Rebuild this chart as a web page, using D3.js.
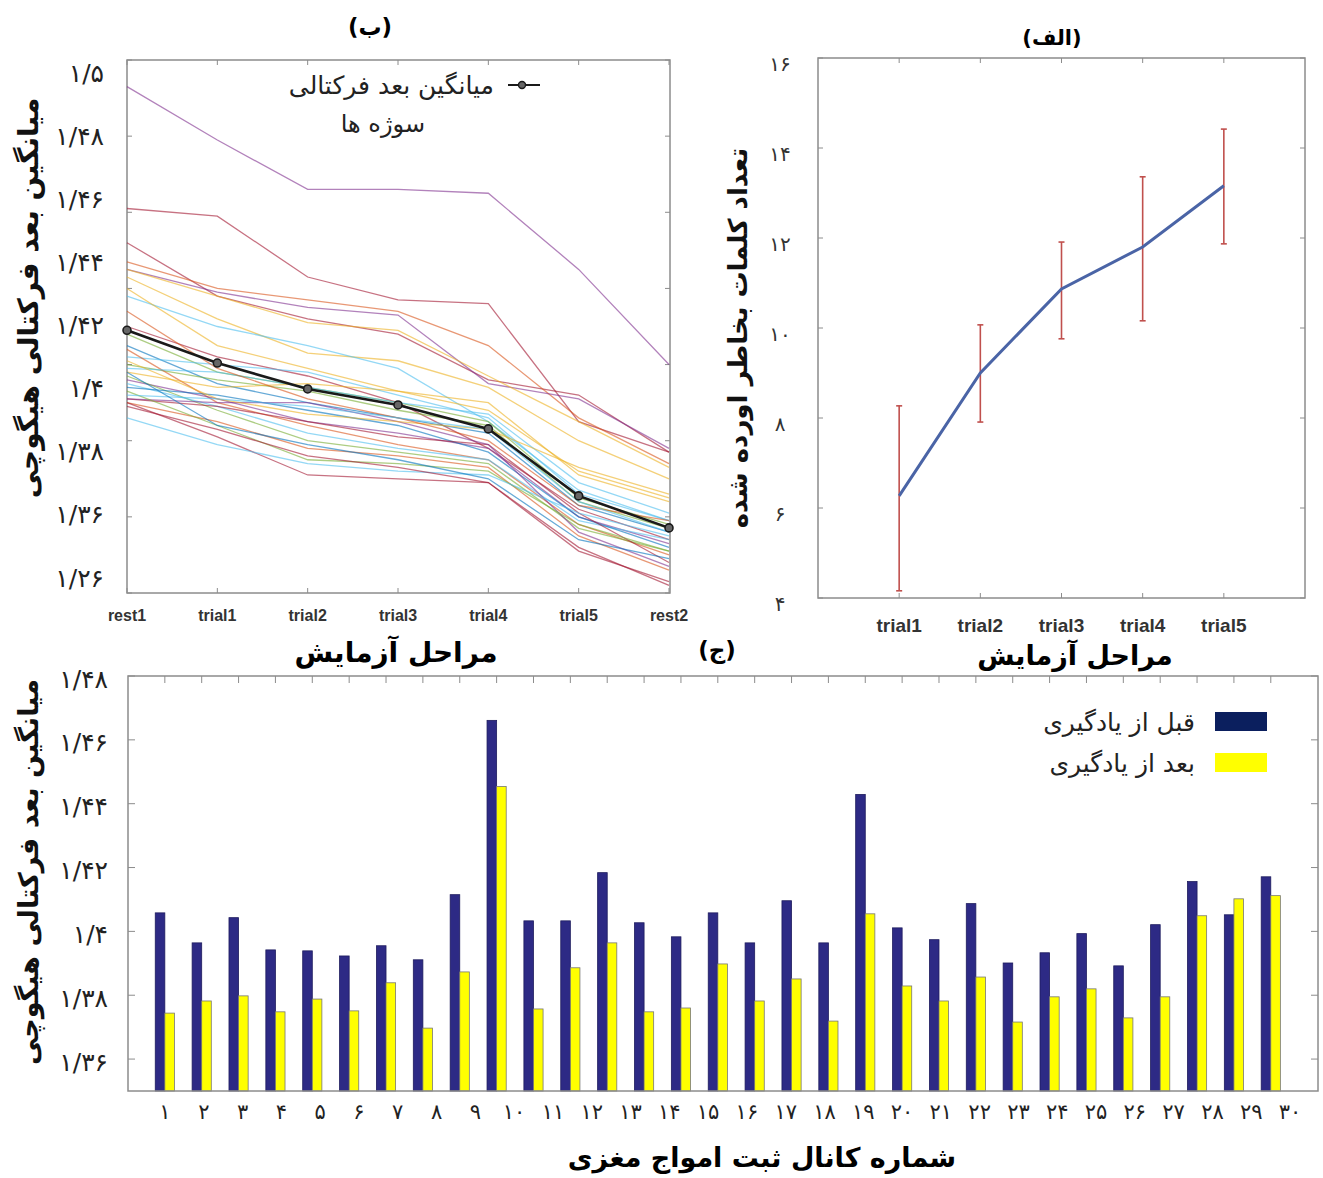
<!DOCTYPE html>
<html>
<head>
<meta charset="utf-8">
<script src="https://cdn.jsdelivr.net/npm/d3@7"></script>
<style>
  body { margin: 0; background: #fff; }
  svg { display: block; }
  .fa { font-family: "DejaVu Sans", sans-serif; }
  .en { font-family: "Liberation Sans", Arial, sans-serif; font-weight: bold; }
</style>
</head>
<body>
<div id="chart"></div>
<script>
// ---------- data ----------
// panel (ب): fractal dimension per stage, per subject
const stages = ['rest1', 'trial1', 'trial2', 'trial3', 'trial4', 'trial5', 'rest2'];
const meanFD = [1.429, 1.4204, 1.4136, 1.4094, 1.4031, 1.3855, 1.3771];
const subjects = [
  [1.493, 1.479, 1.466, 1.466, 1.465, 1.445, 1.420],
  [1.461, 1.459, 1.443, 1.437, 1.436, 1.405, 1.397],
  [1.452, 1.438, 1.432, 1.428, 1.416, 1.412, 1.397],
  [1.447, 1.440, 1.437, 1.434, 1.425, 1.406, 1.394],
  [1.445, 1.439, 1.435, 1.433, 1.415, 1.411, 1.398],
  [1.445, 1.438, 1.431, 1.429, 1.417, 1.405, 1.393],
  [1.443, 1.432, 1.423, 1.421, 1.414, 1.400, 1.390],
  [1.438, 1.430, 1.425, 1.419, 1.405, 1.387, 1.379],
  [1.440, 1.425, 1.419, 1.413, 1.408, 1.392, 1.385],
  [1.430, 1.422, 1.417, 1.410, 1.398, 1.382, 1.374],
  [1.428, 1.418, 1.414, 1.410, 1.405, 1.385, 1.378],
  [1.425, 1.415, 1.410, 1.406, 1.402, 1.383, 1.376],
  [1.422, 1.420, 1.418, 1.412, 1.406, 1.386, 1.379],
  [1.420, 1.416, 1.413, 1.408, 1.404, 1.384, 1.377],
  [1.424, 1.410, 1.404, 1.399, 1.395, 1.378, 1.370],
  [1.419, 1.418, 1.414, 1.410, 1.407, 1.389, 1.381],
  [1.418, 1.414, 1.415, 1.413, 1.410, 1.391, 1.384],
  [1.416, 1.411, 1.405, 1.402, 1.398, 1.380, 1.373],
  [1.417, 1.408, 1.400, 1.397, 1.394, 1.377, 1.371],
  [1.415, 1.409, 1.402, 1.398, 1.395, 1.379, 1.374],
  [1.414, 1.412, 1.408, 1.404, 1.397, 1.380, 1.372],
  [1.411, 1.409, 1.405, 1.401, 1.399, 1.381, 1.368],
  [1.411, 1.410, 1.410, 1.405, 1.399, 1.376, 1.367],
  [1.410, 1.405, 1.398, 1.396, 1.393, 1.375, 1.366],
  [1.410, 1.401, 1.391, 1.390, 1.389, 1.371, 1.363],
  [1.413, 1.404, 1.395, 1.394, 1.392, 1.378, 1.371],
  [1.406, 1.399, 1.394, 1.392, 1.391, 1.381, 1.375],
  [1.421, 1.411, 1.407, 1.405, 1.403, 1.393, 1.386],
  [1.434, 1.419, 1.411, 1.406, 1.400, 1.383, 1.379],
  [1.412, 1.411, 1.409, 1.406, 1.403, 1.384, 1.376],
  [1.409, 1.403, 1.396, 1.393, 1.389, 1.372, 1.362],
  [1.418, 1.404, 1.399, 1.395, 1.390, 1.374, 1.369]
];
const subjectColors = ['#7E2F8E', '#A2142F', '#A2142F', '#D95319', '#7E2F8E', '#EDB120', '#EDB120',
  '#4DBEEE', '#EDB120', '#A2142F', '#77AC30', '#0072BD', '#4DBEEE', '#77AC30', '#D95319', '#4DBEEE',
  '#EDB120', '#7E2F8E', '#77AC30', '#4DBEEE', '#0072BD', '#A2142F', '#7E2F8E', '#D95319', '#A2142F',
  '#77AC30', '#4DBEEE', '#EDB120', '#D95319', '#4DBEEE', '#A2142F', '#0072BD'];
const bTickLabels = ['۱/۵', '۱/۴۸', '۱/۴۶', '۱/۴۴', '۱/۴۲', '۱/۴', '۱/۳۸', '۱/۳۶', '۱/۲۶'];

// panel (الف): recalled words per trial, mean with error range
const trials = ['trial1', 'trial2', 'trial3', 'trial4', 'trial5'];
const wordsMean = [6.27, 9.0, 10.87, 11.8, 13.16];
const wordsLow = [4.16, 7.91, 9.76, 10.16, 11.87];
const wordsHigh = [8.27, 10.07, 11.91, 13.36, 14.42];
const aTicks = [4, 6, 8, 10, 12, 14, 16];
const aTickLabels = ['۴', '۶', '۸', '۱۰', '۱۲', '۱۴', '۱۶'];

// panel (ج): per EEG channel, before / after learning
const beforeFD = [1.4058, 1.3964, 1.4043, 1.3942, 1.3939, 1.3923, 1.3955, 1.3911, 1.4115, 1.4661,
  1.4033, 1.4033, 1.4184, 1.4027, 1.3983, 1.4058, 1.3964, 1.4096, 1.3964, 1.4429,
  1.4011, 1.3974, 1.4087, 1.3901, 1.3933, 1.3993, 1.3892, 1.4021, 1.4156, 1.4052, 1.4171];
const afterFD = [1.3744, 1.3782, 1.3798, 1.3748, 1.3788, 1.3751, 1.3839, 1.3697, 1.3873, 1.4454,
  1.3757, 1.3886, 1.3964, 1.3748, 1.3760, 1.3898, 1.3782, 1.3851, 1.3719, 1.4055,
  1.3829, 1.3782, 1.3857, 1.3716, 1.3795, 1.3820, 1.3729, 1.3795, 1.4049, 1.4102, 1.4112];
const channelLabels = ['۱', '۲', '۳', '۴', '۵', '۶', '۷', '۸', '۹', '۱۰', '۱۱', '۱۲', '۱۳', '۱۴', '۱۵',
  '۱۶', '۱۷', '۱۸', '۱۹', '۲۰', '۲۱', '۲۲', '۲۳', '۲۴', '۲۵', '۲۶', '۲۷', '۲۸', '۲۹', '۳۰'];
const cTicks = [1.36, 1.38, 1.40, 1.42, 1.44, 1.46, 1.48];
const cTickLabels = ['۱/۳۶', '۱/۳۸', '۱/۴', '۱/۴۲', '۱/۴۴', '۱/۴۶', '۱/۴۸'];
const seriesNames = ['قبل از یادگیری', 'بعد از یادگیری'];
const seriesColors = ['#2d2a85', '#ffff00'];

// ---------- svg ----------
const svg = d3.select('#chart').append('svg')
  .attr('width', 1323).attr('height', 1178);

const boxColor = '#8c8c8c';

function box(g, x0, y0, x1, y1) {
  g.append('rect')
    .attr('x', x0).attr('y', y0)
    .attr('width', x1 - x0).attr('height', y1 - y0)
    .attr('fill', 'none').attr('stroke', boxColor).attr('stroke-width', 1.5);
}

function rotatedLabel(x, y, text, size) {
  svg.append('text')
    .attr('class', 'fa')
    .attr('transform', `translate(${x},${y}) rotate(-90)`)
    .attr('text-anchor', 'middle')
    .attr('dominant-baseline', 'central')
    .attr('font-size', size).attr('font-weight', 'bold')
    .attr('fill', '#111')
    .text(text);
}

// ===== panel (ب) =====
const gB = svg.append('g');
const xB = d3.scalePoint().domain(stages).range([127, 669]);
const yB = d3.scaleLinear().domain([1.36, 1.50]).range([593, 60]);
const yBLabel = d3.scalePoint().domain(bTickLabels).range([73, 578]);

box(gB, 127, 60, 670, 593);

// inward ticks
gB.selectAll('.xtb').data(stages).join('line')
  .attr('x1', d => xB(d)).attr('x2', d => xB(d))
  .attr('y1', 593).attr('y2', 588).attr('stroke', boxColor);
gB.selectAll('.xtt').data(stages).join('line')
  .attr('x1', d => xB(d)).attr('x2', d => xB(d))
  .attr('y1', 60).attr('y2', 65).attr('stroke', boxColor);
const bYTicks = d3.range(1.36, 1.501, 0.02);
gB.selectAll('.ytl').data(bYTicks).join('line')
  .attr('x1', 127).attr('x2', 132)
  .attr('y1', d => yB(d)).attr('y2', d => yB(d)).attr('stroke', boxColor);
gB.selectAll('.ytr').data(bYTicks).join('line')
  .attr('x1', 670).attr('x2', 665)
  .attr('y1', d => yB(d)).attr('y2', d => yB(d)).attr('stroke', boxColor);

const lineB = d3.line()
  .x((d, i) => xB(stages[i]))
  .y(d => yB(d));

gB.selectAll('.subj').data(subjects).join('path')
  .attr('d', lineB)
  .attr('fill', 'none')
  .attr('stroke', (d, i) => subjectColors[i])
  .attr('stroke-opacity', 0.6)
  .attr('stroke-width', 1.3);

gB.append('path')
  .datum(meanFD)
  .attr('d', lineB)
  .attr('fill', 'none').attr('stroke', '#1a1a1a').attr('stroke-width', 2.6);

gB.selectAll('.meanpt').data(meanFD).join('circle')
  .attr('cx', (d, i) => xB(stages[i])).attr('cy', d => yB(d))
  .attr('r', 4).attr('fill', '#666').attr('stroke', '#1a1a1a').attr('stroke-width', 1.6);

// tick labels
gB.selectAll('.ylab').data(bTickLabels).join('text')
  .attr('class', 'fa')
  .attr('x', 104).attr('y', d => yBLabel(d))
  .attr('text-anchor', 'end').attr('dominant-baseline', 'central')
  .attr('font-size', 25).attr('fill', '#222')
  .text(d => d);

gB.selectAll('.xlab').data(stages).join('text')
  .attr('class', 'en')
  .attr('x', d => xB(d)).attr('y', 621)
  .attr('text-anchor', 'middle')
  .attr('font-size', 16).attr('fill', '#333')
  .text(d => d);

// legend
gB.append('line').attr('x1', 508).attr('x2', 540).attr('y1', 85).attr('y2', 85)
  .attr('stroke', '#1a1a1a').attr('stroke-width', 2);
gB.append('circle').attr('cx', 522).attr('cy', 85).attr('r', 3.5)
  .attr('fill', '#666').attr('stroke', '#1a1a1a').attr('stroke-width', 1.4);
gB.append('text').attr('class', 'fa')
  .attr('x', 494).attr('y', 85).attr('dominant-baseline', 'central')
  .attr('text-anchor', 'end').attr('font-size', 25).attr('fill', '#222')
  .text('میانگین بعد فرکتالی');
gB.append('text').attr('class', 'fa')
  .attr('x', 425).attr('y', 124).attr('dominant-baseline', 'central')
  .attr('text-anchor', 'end').attr('font-size', 24).attr('fill', '#222')
  .text('سوژه ها');

svg.append('text').attr('class', 'fa')
  .attr('x', 370).attr('y', 27).attr('text-anchor', 'middle').attr('dominant-baseline', 'central')
  .attr('font-size', 23).attr('font-weight', 'bold').text('(ب)');
svg.append('text').attr('class', 'fa')
  .attr('x', 396).attr('y', 652).attr('text-anchor', 'middle').attr('dominant-baseline', 'central')
  .attr('font-size', 28).attr('font-weight', 'bold').text('مراحل آزمایش');
rotatedLabel(28, 298, 'میانگین بعد فرکتالی هیگوچی', 28);

// ===== panel (الف) =====
const gA = svg.append('g');
const xA = d3.scaleLinear().domain([0, 6]).range([818, 1305]);
const yA = d3.scaleLinear().domain([4, 16]).range([598, 58]);

box(gA, 818, 58, 1305, 598);
const trialIdx = trials.map((t, i) => i + 1);
gA.selectAll('.xtb').data(trialIdx).join('line')
  .attr('x1', d => xA(d)).attr('x2', d => xA(d))
  .attr('y1', 598).attr('y2', 593).attr('stroke', boxColor);
gA.selectAll('.xtt').data(trialIdx).join('line')
  .attr('x1', d => xA(d)).attr('x2', d => xA(d))
  .attr('y1', 58).attr('y2', 63).attr('stroke', boxColor);
gA.selectAll('.ytl').data(aTicks).join('line')
  .attr('x1', 818).attr('x2', 823)
  .attr('y1', d => yA(d)).attr('y2', d => yA(d)).attr('stroke', boxColor);
gA.selectAll('.ytr').data(aTicks).join('line')
  .attr('x1', 1305).attr('x2', 1300)
  .attr('y1', d => yA(d)).attr('y2', d => yA(d)).attr('stroke', boxColor);

// error bars
const errColor = '#c0504d';
trials.forEach((t, i) => {
  const x = xA(i + 1);
  gA.append('line').attr('x1', x).attr('x2', x)
    .attr('y1', yA(wordsLow[i])).attr('y2', yA(wordsHigh[i]))
    .attr('stroke', errColor).attr('stroke-width', 1.6);
  [wordsLow[i], wordsHigh[i]].forEach(v => {
    gA.append('line').attr('x1', x - 3).attr('x2', x + 3)
      .attr('y1', yA(v)).attr('y2', yA(v))
      .attr('stroke', errColor).attr('stroke-width', 1.6);
  });
});

gA.append('path')
  .datum(wordsMean)
  .attr('d', d3.line().x((d, i) => xA(i + 1)).y(d => yA(d)))
  .attr('fill', 'none').attr('stroke', '#4a64a6').attr('stroke-width', 3);

gA.selectAll('.ylab').data(aTicks).join('text')
  .attr('class', 'fa')
  .attr('x', 780).attr('y', d => yA(d) + 6)
  .attr('text-anchor', 'middle').attr('dominant-baseline', 'central')
  .attr('font-size', 20).attr('fill', '#333')
  .text((d, i) => aTickLabels[i]);

gA.selectAll('.xlab').data(trials).join('text')
  .attr('class', 'en')
  .attr('x', (d, i) => xA(i + 1)).attr('y', 632)
  .attr('text-anchor', 'middle')
  .attr('font-size', 19).attr('fill', '#333')
  .text(d => d);

svg.append('text').attr('class', 'fa')
  .attr('x', 1052).attr('y', 38).attr('text-anchor', 'middle').attr('dominant-baseline', 'central')
  .attr('font-size', 21).attr('font-weight', 'bold').text('(الف)');
svg.append('text').attr('class', 'fa')
  .attr('x', 1075).attr('y', 655).attr('text-anchor', 'middle').attr('dominant-baseline', 'central')
  .attr('font-size', 27).attr('font-weight', 'bold').text('مراحل آزمایش');
rotatedLabel(738, 338, 'تعداد کلمات بخاطر اورده شده', 26);

// ===== panel (ج) =====
const gC = svg.append('g');
const channels = d3.range(beforeFD.length);
const xC = d3.scaleBand().domain(channels).range([128, 1318])
  .paddingInner(0.48).paddingOuter(0.88).align(0.42);
const xSub = d3.scaleBand().domain([0, 1]).range([0, xC.bandwidth()]);
const yC = d3.scaleLinear().domain([1.35, 1.48]).range([1091, 676]);
const xCLabel = d3.scalePoint().domain(channelLabels).range([165, 1290]);

// bars
const pairs = channels.map(c => [beforeFD[c], afterFD[c]]);
const groups = gC.selectAll('.grp').data(pairs).join('g')
  .attr('transform', (d, i) => `translate(${xC(i)},0)`);
groups.selectAll('rect').data(d => d).join('rect')
  .attr('x', (d, j) => xSub(j))
  .attr('y', d => yC(d))
  .attr('width', xSub.bandwidth())
  .attr('height', d => yC(1.35) - yC(d))
  .attr('fill', (d, j) => seriesColors[j])
  .attr('stroke', (d, j) => j === 0 ? '#1e1c5e' : '#777')
  .attr('stroke-width', 0.8);

box(gC, 128, 676, 1318, 1091);
gC.selectAll('.xtt').data(channels).join('line')
  .attr('x1', d => xC(d) + xC.bandwidth() / 2).attr('x2', d => xC(d) + xC.bandwidth() / 2)
  .attr('y1', 676).attr('y2', 683).attr('stroke', boxColor);
gC.selectAll('.ytl').data(cTicks).join('line')
  .attr('x1', 128).attr('x2', 135)
  .attr('y1', d => yC(d)).attr('y2', d => yC(d)).attr('stroke', boxColor);
gC.selectAll('.ytr').data(cTicks).join('line')
  .attr('x1', 1318).attr('x2', 1311)
  .attr('y1', d => yC(d)).attr('y2', d => yC(d)).attr('stroke', boxColor);

gC.selectAll('.ylab').data(cTicks).join('text')
  .attr('class', 'fa')
  .attr('x', 108).attr('y', d => yC(d) + 3)
  .attr('text-anchor', 'end').attr('dominant-baseline', 'central')
  .attr('font-size', 25).attr('fill', '#222')
  .text((d, i) => cTickLabels[i]);

gC.selectAll('.xlab').data(channelLabels).join('text')
  .attr('class', 'fa')
  .attr('x', d => xCLabel(d)).attr('y', 1112)
  .attr('text-anchor', 'middle').attr('dominant-baseline', 'central')
  .attr('font-size', 21).attr('fill', '#222')
  .text(d => d);

// legend
seriesNames.forEach((name, i) => {
  const y = 722 + i * 41;
  gC.append('rect').attr('x', 1215).attr('y', y - 10).attr('width', 52).attr('height', 19)
    .attr('fill', i === 0 ? '#0b1f5e' : seriesColors[i]);
  gC.append('text').attr('class', 'fa')
    .attr('x', 1195).attr('y', y).attr('dominant-baseline', 'central')
    .attr('text-anchor', 'end').attr('font-size', 25).attr('fill', '#222')
    .text(name);
});

svg.append('text').attr('class', 'fa')
  .attr('x', 717).attr('y', 650).attr('text-anchor', 'middle').attr('dominant-baseline', 'central')
  .attr('font-size', 23).attr('font-weight', 'bold').text('(ج)');
svg.append('text').attr('class', 'fa')
  .attr('x', 762).attr('y', 1157).attr('text-anchor', 'middle').attr('dominant-baseline', 'central')
  .attr('font-size', 27).attr('font-weight', 'bold').text('شماره کانال ثبت امواج مغزی');
rotatedLabel(28, 872, 'میانگین بعد فرکتالی هیگوچی', 27);
</script>
</body>
</html>
